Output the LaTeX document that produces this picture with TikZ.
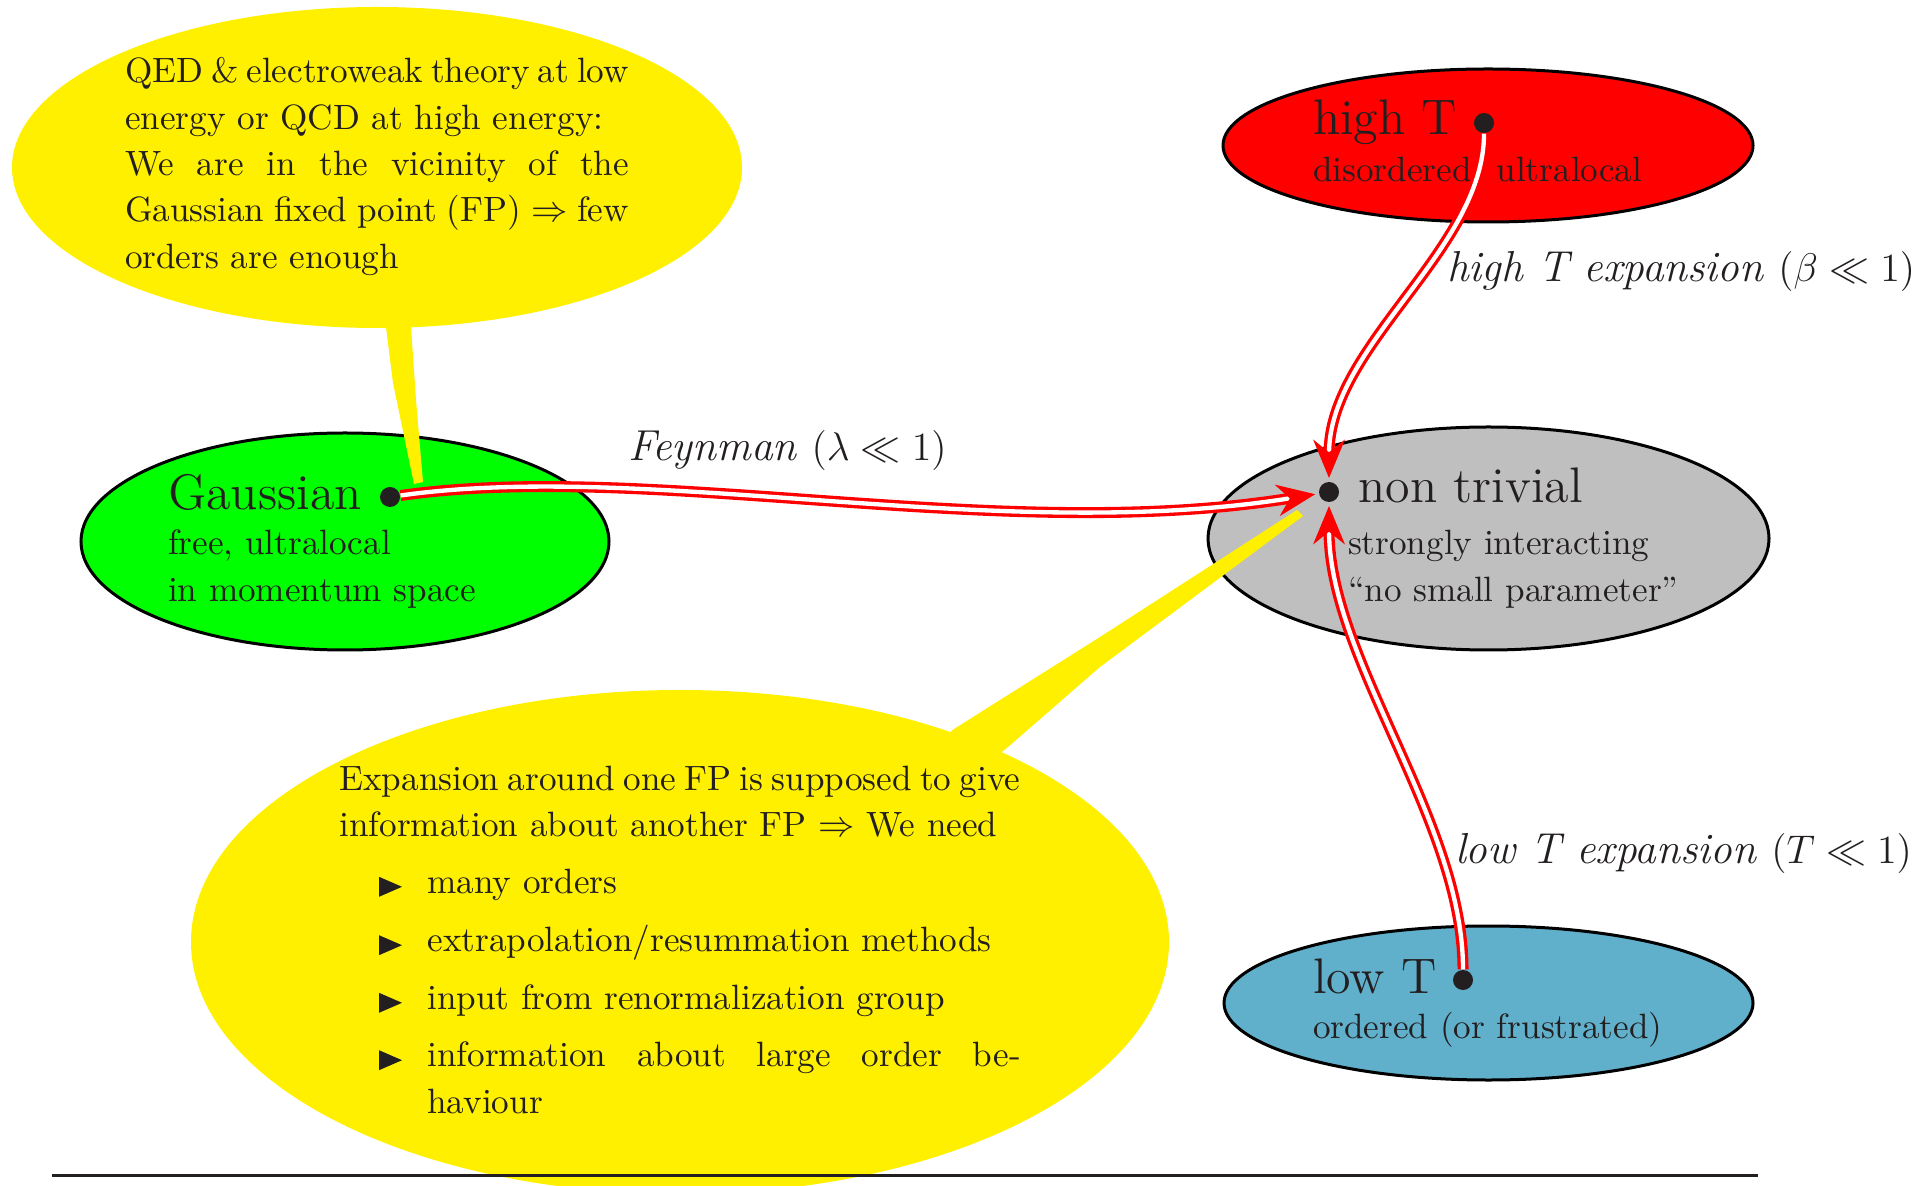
\documentclass[tikz,border=0pt]{standalone}
\usepackage{amsmath,amssymb}
\usetikzlibrary{arrows.meta}
\definecolor{txt}{RGB}{35,31,32}
\definecolor{cyel}{RGB}{255,240,0}
\definecolor{cgreen}{RGB}{0,255,0}
\definecolor{cred}{RGB}{255,0,0}
\definecolor{cgray}{RGB}{191,191,191}
\definecolor{cblue}{RGB}{96,176,204}
\newcommand\cotext{\fontsize{10.55}{13.9}\selectfont}
\newcommand\ndtext{\fontsize{10.55}{14}\selectfont}
\newcommand\ndtitle{\fontsize{14.99}{17}\selectfont}
\newcommand\lbltext{\fontsize{13}{15}\selectfont}
\begin{document}
\begin{tikzpicture}[x=0.3pt,y=-0.3pt,
  blob/.style={draw=black,line width=0.9pt},
  txtnode/.style={anchor=base west,inner sep=0pt,outer sep=0pt,text=txt},
  dotnode/.style={circle,fill=txt,inner sep=0pt,minimum size=6pt},
  conn/.style={draw=cred,double=white,line width=1pt,double distance=1.3pt,
    -{Stealth[length=11.5pt,width=9.5pt,inset=3.8pt]},shorten >=1pt},
  callfill/.style={fill=cyel},
  tri/.style={fill=txt}]
\useasboundingbox (0,0) rectangle (1930,1186);
% fixed point ellipses
\draw[blob,fill=cgreen] (345,541.5) ellipse [x radius=264,y radius=108.5];
\draw[blob,fill=cgray] (1488.5,538.5) ellipse [x radius=280.5,y radius=111.5];
\draw[blob,fill=cred] (1488,145.5) ellipse [x radius=265,y radius=76.5];
\draw[blob,fill=cblue] (1488.5,1003) ellipse [x radius=264.5,y radius=77];
% callouts
\fill[callfill] (377,167.5) ellipse [x radius=365,y radius=160.5];
\fill[callfill] (383,300) -- (386,327) -- (393,383) -- (414,484) -- (423,482) -- (416,400) -- (411,327) -- (409,300) -- cycle;
\fill[callfill] (680,942) ellipse [x radius=489,y radius=252];
\fill[callfill] (905,770) -- (954,729) -- (1100,637) -- (1297,510) -- (1303,516) -- (1100,667) -- (1008,747) -- (955,790) -- cycle;
% top callout text
\node[txtnode] (q1) at (125,82.7) {\cotext\makebox[151.2pt][s]{QED \& electroweak theory at low}};
\node[txtnode] (q2) at (125,129.3) {\cotext energy or QCD at high energy:};
\node[txtnode] (q3) at (125,175.7) {\cotext\makebox[151.2pt][s]{We are in the vicinity of the}};
\node[txtnode] (q4) at (125,221.7) {\cotext\makebox[151.2pt][s]{Gaussian fixed point (FP) $\Rightarrow$ few}};
\node[txtnode] (q5) at (125,268.3) {\cotext orders are enough};
% bottom callout text
\node[txtnode] (e1) at (339.4,790) {\cotext\makebox[204.3pt][s]{Expansion around one FP is supposed to give}};
\node[txtnode] (e2) at (339.4,836) {\cotext information about another FP $\Rightarrow$ We need};
\node[txtnode] (i1) at (427.4,893.3) {\cotext many orders};
\node[txtnode] (i2) at (427.4,951.7) {\cotext extrapolation/resummation methods};
\node[txtnode] (i3) at (427.4,1009.3) {\cotext input from renormalization group};
\node[txtnode] (i4) at (427.4,1066.7) {\cotext\makebox[178pt][s]{information about large order be-}};
\node[txtnode] (i5) at (427.4,1113.3) {\cotext haviour};
\foreach \yy in {893.3,951.7,1009.3,1066.7}{
  \fill[tri] (379,\yy-16.5) -- (379,\yy+3.5) -- (402,\yy-6.5) -- cycle;
}
% node texts
\node[txtnode] (gt) at (168,510) {\ndtitle Gaussian};
\node[txtnode] (g1) at (168,555) {\ndtext free, ultralocal};
\node[txtnode] (g2) at (168,601.7) {\ndtext in momentum space};
\node[txtnode] (nt) at (1358.6,503) {\ndtitle non trivial};
\node[txtnode] (n1) at (1348,555) {\ndtext strongly interacting};
\node[txtnode] (n2) at (1348,602) {\ndtext ``no small parameter''};
\node[txtnode] (ht) at (1313,135) {\ndtitle high T};
\node[txtnode] (h1) at (1313,182) {\ndtext disordered\hspace{7.5pt}ultralocal};
\node[txtnode] (lt) at (1313,993) {\ndtitle low T};
\node[txtnode] (l1) at (1313,1038) {\ndtext ordered (or frustrated)};
% labels
\node[txtnode] (lf) at (628,461) {\lbltext\textit{Feynman} $(\lambda\ll 1)$};
\node[txtnode] (lh) at (1447,282) {\lbltext\textit{high T expansion} $(\beta\ll 1)$};
\node[txtnode] (ll) at (1455,863) {\lbltext\textit{low T expansion} $(T\ll 1)$};
% dots
\node[dotnode] (gdot) at (390,497) {};
\node[dotnode] (ndot) at (1329,492) {};
\node[dotnode] (hdot) at (1484,123) {};
\node[dotnode] (ldot) at (1463,980) {};
% arrows
\draw[conn] (gdot) .. controls (650,460) and (1000,545) .. (ndot);
\draw[conn] (hdot) .. controls (1484,250) and (1329,345) .. (ndot);
\draw[conn] (ldot) .. controls (1463,820) and (1329,660) .. (ndot);
% rule
\coordinate (r1) at (52,1175.5);
\coordinate (r2) at (1758,1175.5);
\draw[draw=txt,line width=0.9pt] (r1) -- (r2);
\end{tikzpicture}
\end{document}
